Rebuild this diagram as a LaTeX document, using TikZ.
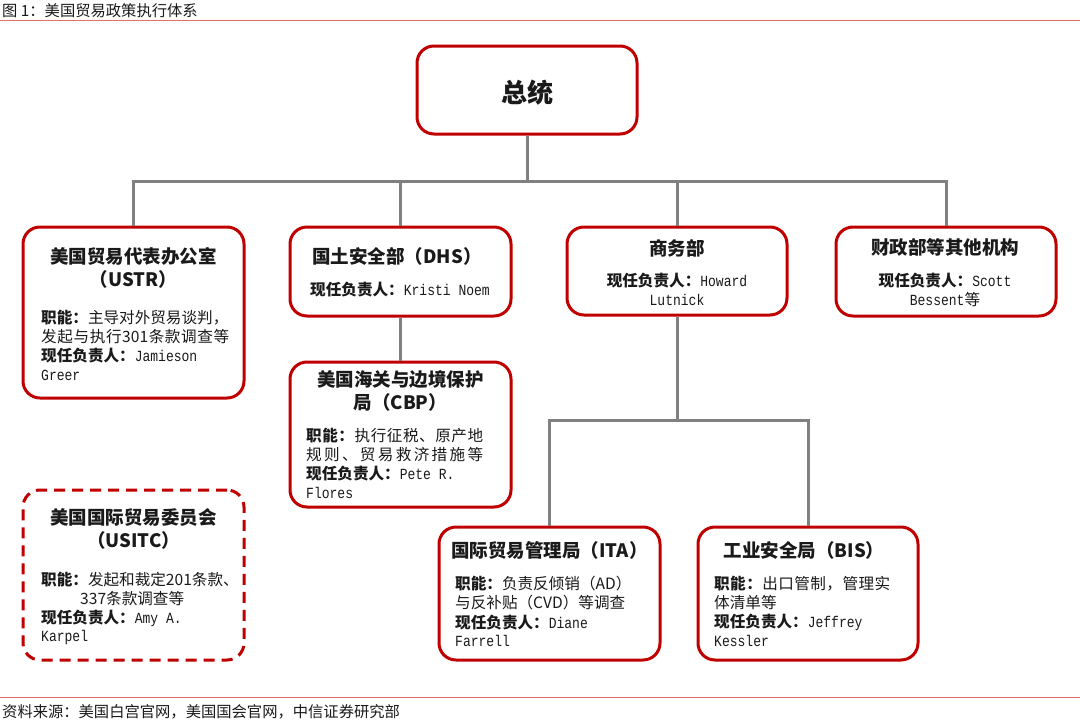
\documentclass[tikz,border=0pt]{standalone}
\usepackage{fontspec}
\setmainfont{Noto Sans CJK SC}
\newfontfamily\monof[FakeStretch=0.84]{Liberation Mono}
\definecolor{boxred}{HTML}{C00000}
\definecolor{linegray}{HTML}{808080}
\definecolor{rulered}{HTML}{E07070}
\definecolor{txt}{HTML}{1A1A1A}
\makeatletter
\def\spreadloop#1{{#1}\futurelet\spnext\spreadcheck}
\def\spreadcheck{\ifx\spnext\relax\expandafter\@gobble\else\hfil\expandafter\spreadloop\fi}
\newcommand\spreadto[2]{\hbox to #1{\spreadloop#2\relax}}
\makeatother
\begin{document}
\begin{tikzpicture}[x=1pt,y=-1pt,
  box/.style={draw=boxred, line width=3pt, rounded corners=17pt, fill=white, inner sep=0pt},
  dashbox/.style={box, dash pattern=on 11pt off 7pt},
  conn/.style={draw=linegray, line width=3pt},
  ttl/.style={font=\fontsize{18.5}{22}\selectfont\bfseries, text=txt, inner sep=0pt},
  big/.style={font=\fontsize{26}{30}\selectfont\bfseries, text=txt, inner sep=0pt},
  bd/.style={font=\fontsize{15.6}{18}\selectfont, text=txt, inner sep=0pt, anchor=west},
  bdc/.style={font=\fontsize{15.6}{18}\selectfont, text=txt, inner sep=0pt},
  captxt/.style={font=\fontsize{15.3}{18}\selectfont, text=txt, inner sep=0pt, anchor=west}]
\useasboundingbox (0,0) rectangle (1080,723);
\newcommand{\nm}[1]{{\monof\fontsize{15.5}{18}\selectfont #1}}
\newcommand{\lb}[1]{{\bfseries #1}}

% page rules and captions
\draw[rulered, line width=1pt] (0,20) -- (1080,20);
\draw[rulered, line width=1pt] (0,697) -- (1080,697);
\node[captxt] (figtitle) at (2,11) {图 1：美国贸易政策执行体系};
\node[captxt] (source) at (2,712) {资料来源：美国白宫官网，美国国会官网，中信证券研究部};

% boxes
\node[box, minimum width=220pt, minimum height=88pt] (pres) at (527,90) {};
\node[box, minimum width=221pt, minimum height=171pt] (ustr) at (133.5,312.5) {};
\node[box, minimum width=221pt, minimum height=89pt] (dhs) at (400.5,271.5) {};
\node[box, minimum width=220pt, minimum height=88pt] (doc) at (677,271) {};
\node[box, minimum width=220pt, minimum height=89pt] (tre) at (946,271.5) {};
\node[box, minimum width=221pt, minimum height=145pt] (cbp) at (400.5,434.5) {};
\node[dashbox, minimum width=221pt, minimum height=170pt] (usitc) at (133.5,575) {};
\node[box, minimum width=221pt, minimum height=133pt] (ita) at (549.5,593.5) {};
\node[box, minimum width=220pt, minimum height=133pt] (bis) at (808,593.5) {};

% connectors
\coordinate (bus1) at (527,181);
\coordinate (bus2) at (678,420);
\draw[conn] (pres.south) -- (pres.south |- bus1);
\draw[conn] (ustr.north) -- (ustr.north |- bus1) -- (tre.north |- bus1) -- (tre.north);
\draw[conn] (dhs.north |- bus1) -- (dhs.north);
\draw[conn] (doc.north |- bus1) -- (doc.north);
\draw[conn] (dhs.south) -- (cbp.north);
\draw[conn] (doc.south) -- (doc.south |- bus2);
\draw[conn] (ita.north) -- (ita.north |- bus2) -- (bis.north |- bus2) -- (bis.north);

% President
\node[big] (presT) at (527,93) {总统};

% USTR
\node[ttl] (ustrT1) at (133.5,256) {美国贸易代表办公室};
\node[ttl] (ustrT2) at (133.5,279) {（USTR）};
\node[bd] (ustrB1) at (41,318) {{\lb{职能：}}主导对外贸易谈判，};
\node[bd] (ustrB2) at (41,337) {\spreadto{188pt}{发起与执行{301}条款调查等}};
\node[bd] (ustrB3) at (41,356) {\lb{现任负责人：}\nm{Jamieson}};
\node[bd] (ustrB4) at (41,375) {\nm{Greer}};

% DHS
\node[ttl] (dhsT) at (397,256) {国土安全部（DHS）};
\node[bdc] (dhsB) at (400,290) {\lb{现任负责人：}\nm{Kristi Noem}};

% CBP
\node[ttl] (cbpT1) at (400.5,380) {美国海关与边境保护};
\node[ttl] (cbpT2) at (400.5,402.5) {局（CBP）};
\node[bd] (cbpB1) at (306,436) {\spreadto{177pt}{{\lb{职}}{\lb{能}}{\lb{：}}执行征税、原产地}};
\node[bd] (cbpB2) at (306,455) {\spreadto{177pt}{规则、贸易救济措施等}};
\node[bd] (cbpB3) at (306,474) {\lb{现任负责人：}\nm{Pete R.}};
\node[bd] (cbpB4) at (306,493) {\nm{Flores}};

% Commerce
\node[ttl] (docT) at (677,248) {商务部};
\node[bdc] (docB1) at (677,281) {\lb{现任负责人：}\nm{Howard}};
\node[bdc] (docB2) at (677,300) {\nm{Lutnick}};

% Treasury
\node[ttl] (treT) at (945,247.5) {财政部等其他机构};
\node[bdc] (treB1) at (945,281) {\lb{现任负责人：}\nm{Scott}};
\node[bdc] (treB2) at (945,300) {\nm{Bessent}等};

% USITC
\node[ttl] (usitcT1) at (133.5,517) {美国国际贸易委员会};
\node[ttl] (usitcT2) at (133.5,540.5) {（USITC）};
\node[bd] (usitcB1) at (41,580) {\lb{职能：}发起和裁定201条款、};
\node[bd] (usitcB2) at (80,598.5) {337条款调查等};
\node[bd] (usitcB3) at (41,618) {\lb{现任负责人：}\nm{Amy A.}};
\node[bd] (usitcB4) at (41,637) {\nm{Karpel}};

% ITA
\node[ttl] (itaT) at (549.5,550.5) {国际贸易管理局（ITA）};
\node[bd] (itaB1) at (455,583.5) {\lb{职能：}负责反倾销（AD）};
\node[bd] (itaB2) at (455,603) {与反补贴（CVD）等调查};
\node[bd] (itaB3) at (455,622.5) {\lb{现任负责人：}\nm{Diane}};
\node[bd] (itaB4) at (455,641) {\nm{Farrell}};

% BIS
\node[ttl] (bisT) at (804,550.5) {工业安全局（BIS）};
\node[bd] (bisB1) at (714,583.5) {\spreadto{176pt}{{\lb{职}}{\lb{能}}{\lb{：}}出口管制，管理实}};
\node[bd] (bisB2) at (714,603) {体清单等};
\node[bd] (bisB3) at (714,622.5) {\lb{现任负责人：}\nm{Jeffrey}};
\node[bd] (bisB4) at (714,641) {\nm{Kessler}};
\end{tikzpicture}
\end{document}
